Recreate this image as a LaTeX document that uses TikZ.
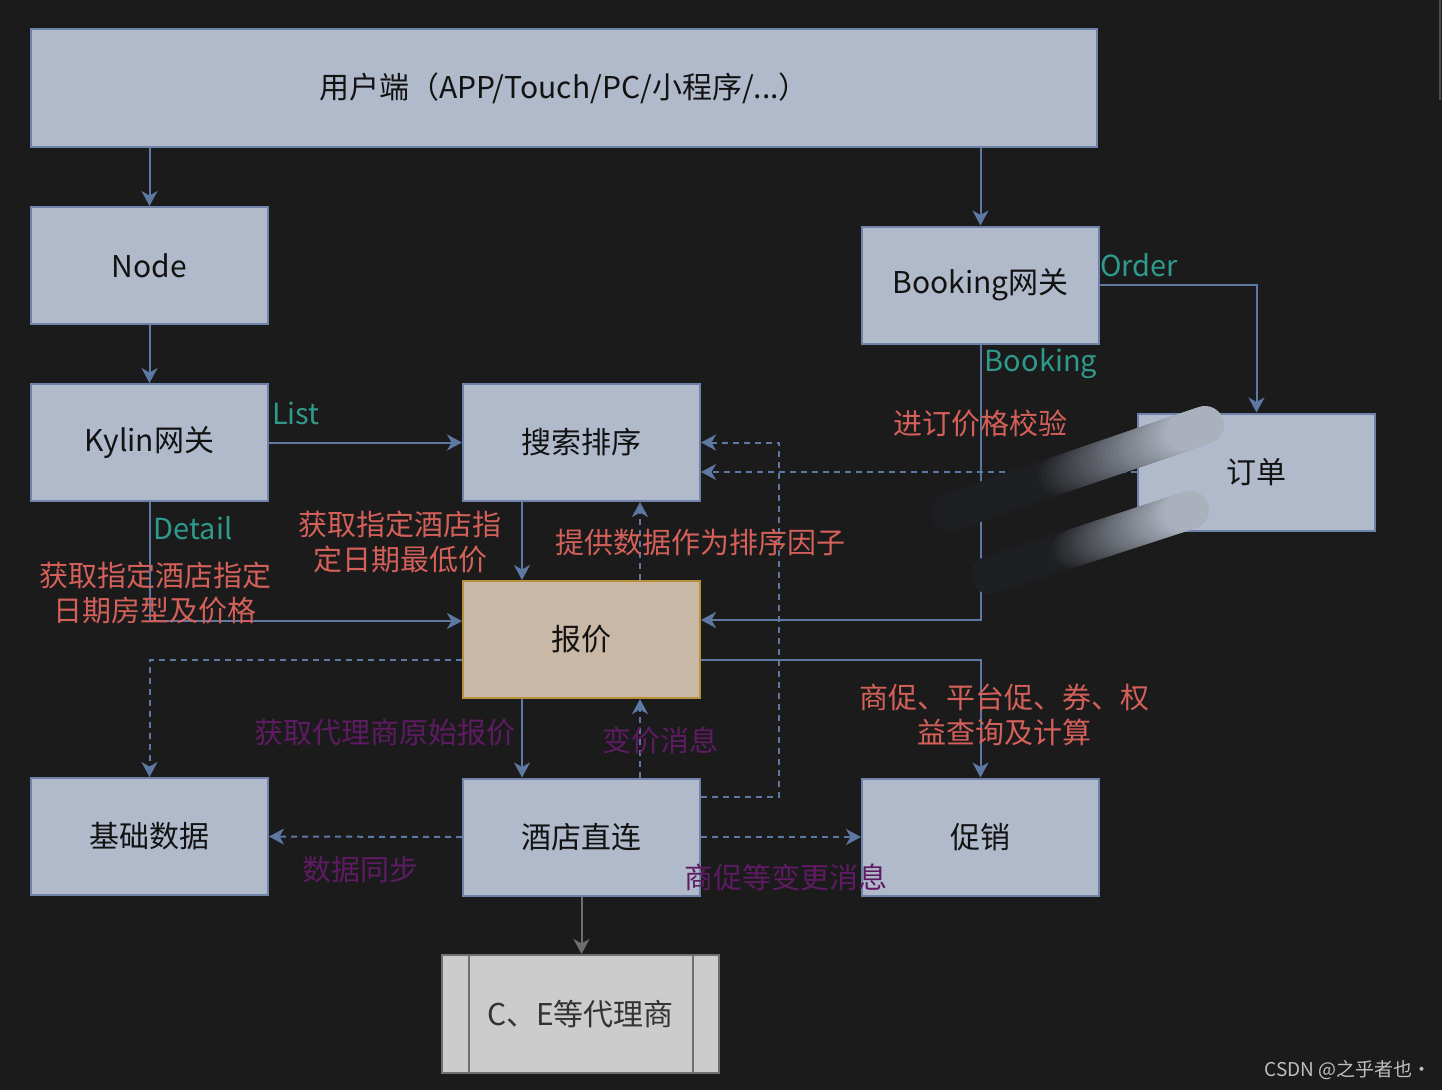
\documentclass[tikz,border=0pt]{standalone}
\usepackage{fontspec}
\setmainfont{Noto Sans CJK SC}
\usetikzlibrary{arrows.meta,calc}

\definecolor{bg}{HTML}{1B1B1B}
\definecolor{boxfill}{HTML}{B1BACB}
\definecolor{boxline}{HTML}{6F83AA}
\definecolor{quotefill}{HTML}{CAB8A6}
\definecolor{quoteline}{HTML}{B8913B}
\definecolor{agentfill}{HTML}{CCCCCC}
\definecolor{agentline}{HTML}{707070}
\definecolor{wire}{HTML}{5E78A4}
\definecolor{graywire}{HTML}{6E6E6E}
\definecolor{redtxt}{HTML}{D4605A}
\definecolor{tealtxt}{HTML}{2E9A8C}
\definecolor{purtxt}{HTML}{5E1B63}
\definecolor{smudgedark}{HTML}{1E1F23}
\definecolor{smudgelight}{HTML}{AAB1BD}

\begin{document}
\begin{tikzpicture}[x=1pt,y=-1pt,
  box/.style={draw=boxline, fill=boxfill, line width=2pt, inner sep=0pt,
    minimum width=237pt, minimum height=117pt, text=black!93,
    font=\fontsize{30}{36}\selectfont},
  conn/.style={draw=wire, line width=2pt,
    -{Stealth[length=15pt,width=16pt,inset=4.5pt]}},
  dconn/.style={conn, dash pattern=on 6pt off 5pt},
  lbl/.style={inner sep=0pt, align=center, font=\fontsize{29}{35}\selectfont},
  redlbl/.style={lbl, text=redtxt},
  teallbl/.style={lbl, text=tealtxt},
  purlbl/.style={lbl, text=purtxt},
]
\useasboundingbox (0,0) rectangle (1442,1090);
\fill[bg] (0,0) rectangle (1442,1090);
\draw[line width=2pt, color=black!70] (1440,0) -- (1440,100);

% boxes
\node[box, minimum width=1066pt, minimum height=118pt] (user) at (564,88)
  {用户端（APP/Touch/PC/小程序/...）};
\node[box] (nodejs)  at (149.5,265.5) {Node};
\node[box] (kylin)   at (149.5,442.5) {Kylin网关};
\node[box] (search)  at (581.5,442.5) {搜索排序};
\node[box, fill=quotefill, draw=quoteline] (quote) at (581.5,639.5) {报价};
\node[box] (basic)   at (149.5,836.5) {基础数据};
\node[box] (direct)  at (581.5,837)   {酒店直连};
\node[box] (promo)   at (980.5,837)   {促销};
\node[box] (booking) at (980.5,285)   {Booking网关};
\node[box] (order)   at (1256.5,472)  {订单};
\node[box, fill=agentfill, draw=agentline, text=black!80,
  minimum width=277pt, minimum height=118pt] (agent) at (580.5,1014)
  {C、E等代理商};
\draw[agentline, line width=2pt]
  ($(agent.north west)+(28,0)$) -- ($(agent.south west)+(28,0)$)
  ($(agent.north east)+(-27,0)$) -- ($(agent.south east)+(-27,0)$);

% solid connectors
\draw[conn] (user.south -| nodejs) -- (nodejs.north);
\draw[conn] (user.south -| booking) -- (booking.north);
\draw[conn] (nodejs.south) -- (kylin.north);
\draw[conn] (kylin.east) -- (search.west);
\draw[conn] (kylin.south) |- ($(quote.west)+(0,-18.5)$);
\draw[conn] ($(search.south)+(-59.5,0)$) -- ($(quote.north)+(-59.5,0)$);
\draw[conn] (booking.south) |- ($(quote.east)+(0,-19.5)$);
\draw[conn] (booking.east) -| (order.north);
\draw[conn] ($(quote.east)+(0,20.5)$) -| (promo.north);
\draw[conn] ($(quote.south)+(-59.5,0)$) -- ($(direct.north)+(-59.5,0)$);
\draw[conn, draw=graywire] (direct.south) -- (direct.south |- agent.north);

% dashed connectors
\draw[dconn] ($(quote.north)+(58.5,0)$) -- ($(search.south)+(58.5,0)$);
\draw[dconn] ($(direct.east)+(0,-40)$) -- ++(78,0) |- (search.east);
\draw[dconn] (order.west) -- (order.west -| search.east);
\draw[dconn] ($(quote.west)+(0,20.5)$) -| (basic.north);
\draw[dconn] ($(direct.north)+(58.5,0)$) -- ($(quote.south)+(58.5,0)$);
\draw[dconn] (direct.west) -- (basic.east);
\draw[dconn] (direct.east) -- (promo.west);

% labels
\node[teallbl] (tList)    at (296,413)  {List};
\node[teallbl] (tDetail)  at (193,528)  {Detail};
\node[teallbl] (tBooking) at (1041,364) {Booking};
\node[teallbl] (tOrder)   at (1139,265) {Order};
\node[redlbl] (rRoom)   at (155,593)  {获取指定酒店指定\\日期房型及价格};
\node[redlbl] (rLow)    at (400,542)  {获取指定酒店指\\定日期最低价};
\node[redlbl] (rFactor) at (700,542)  {提供数据作为排序因子};
\node[redlbl] (rCheck)  at (980,423)  {进订价格校验};
\node[redlbl] (rPromo)  at (1004,715) {商促、平台促、券、权\\益查询及计算};
\node[purlbl] (pRaw)    at (385,733)  {获取代理商原始报价};
\node[purlbl] (pChange) at (660,740)  {变价消息};
\node[purlbl] (pSync)   at (360,869)  {数据同步};
\node[purlbl] (pPromo)  at (786,877)  {商促等变更消息};

% brush strokes over the order area
\coordinate (sA1) at (950,512);
\coordinate (sB1) at (1205,425);
\coordinate (sA2) at (990,575);
\coordinate (sB2) at (1190,510);
\foreach \a/\b/\s/\e in {sA1/sB1/40/92, sA2/sB2/38/96} {
  \foreach \i in {0,...,59} {
    \pgfmathsetmacro\ta{\i/60}
    \pgfmathsetmacro\tb{(\i+1)/60}
    \pgfmathtruncatemacro\w{min(100,max(0,(\i/60*100-\s)/(\e-\s)*100))}
    \draw[line width=38pt, line cap=round, color=smudgelight!\w!smudgedark]
      ($(\a)!\ta!(\b)$) -- ($(\a)!\tb!(\b)$);
  }
}

% watermark
\node[inner sep=0pt, text=black!25, font=\fontsize{19}{22}\selectfont]
  (mark) at (1348,1070) {CSDN @之乎者也·};
\end{tikzpicture}
\end{document}
